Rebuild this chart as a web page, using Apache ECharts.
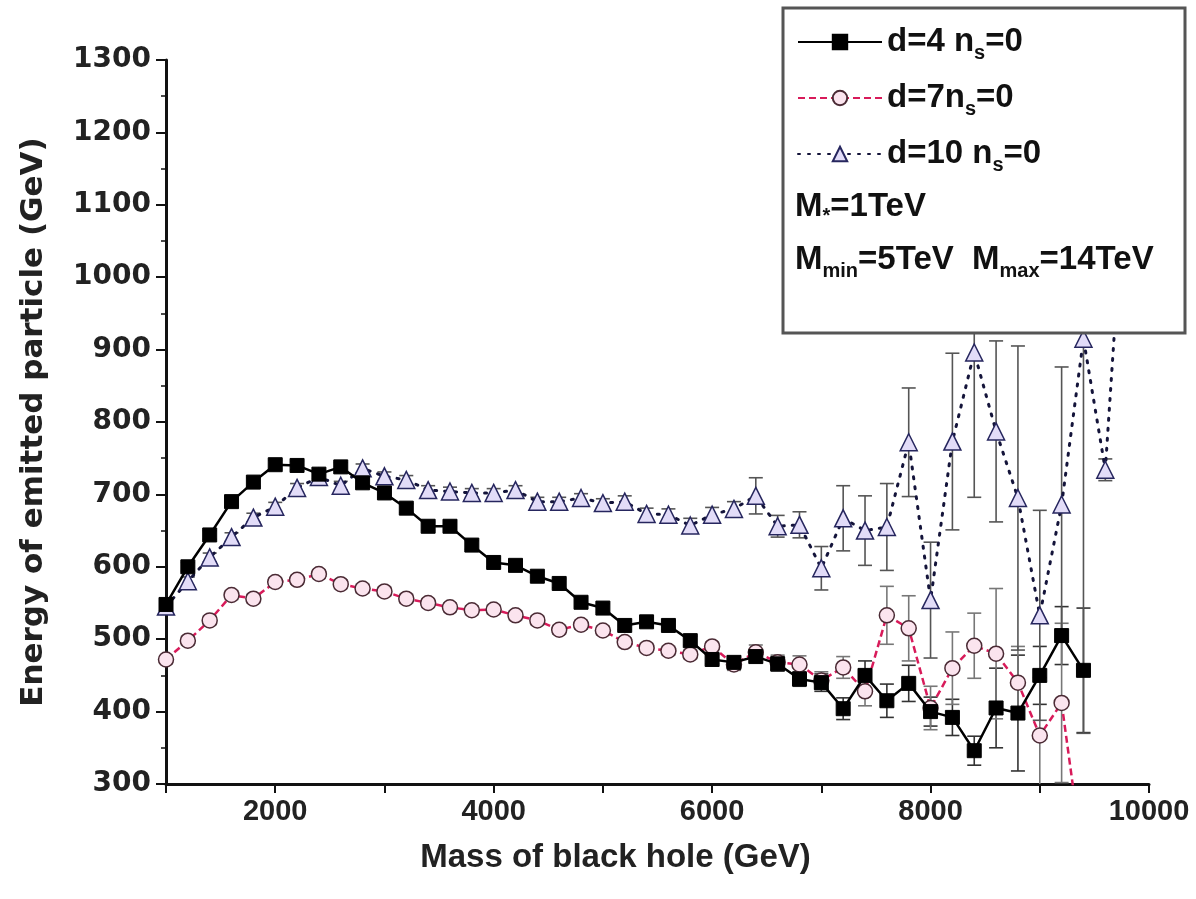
<!DOCTYPE html>
<html><head><meta charset="utf-8">
<script src="https://cdn.jsdelivr.net/npm/echarts@6/dist/echarts.min.js"></script>
<style>html,body{margin:0;padding:0;background:#fff}#c{width:1196px;height:899px}</style>
</head><body><div id="c"></div>
<script>
// ---- data ----
const massD4 = [1000,1200,1400,1600,1800,2000,2200,2400,2600,2800,3000,3200,3400,3600,3800,4000,4200,4400,4600,4800,5000,5200,5400,5600,5800,6000,6200,6400,6600,6800,7000,7200,7400,7600,7800,8000,8200,8400,8600,8800,9000,9200,9400];
const energyD4 = [548,600,644,690,717,741,740,728,738,716,702,681,656,656,630,606,602,587,577,551,543,519,524,519,498,472,468,476,466,445,440,404,450,415,439,400,392,346,405,398,450,505,457];
const errD4 = [6,6,6,6,6,6,6,6,6,6,6,6,6,6,6,6,6,6,6,6,6,6,6,6,6,6,8,8,10,10,12,15,20,23,25,20,25,20,55,80,40,40,86];

const massD7 = [1000,1200,1400,1600,1800,2000,2200,2400,2600,2800,3000,3200,3400,3600,3800,4000,4200,4400,4600,4800,5000,5200,5400,5600,5800,6000,6200,6400,6600,6800,7000,7200,7400,7600,7800,8000,8200,8400,8600,8800,9000,9200,9400];
const energyD7 = [472,498,526,561,556,579,582,590,576,570,566,556,550,544,540,541,533,526,513,520,512,496,488,484,479,490,465,482,468,465,443,461,428,533,515,405,460,491,480,440,367,412,190];
const errD7 = [6,6,6,6,6,6,6,6,6,6,6,6,6,6,6,6,6,6,6,6,6,6,6,6,6,6,8,10,10,12,12,15,20,40,45,30,50,45,90,50,80,110,0];

const massD10 = [1000,1200,1400,1600,1800,2000,2200,2400,2600,2800,3000,3200,3400,3600,3800,4000,4200,4400,4600,4800,5000,5200,5400,5600,5800,6000,6200,6400,6600,6800,7000,7200,7400,7600,7800,8000,8200,8400,8600,8800,9000,9200,9400,9600,9800];
const energyD10 = [545,580,613,641,668,683,709,724,712,736,725,720,706,704,702,702,706,690,690,695,688,690,673,672,657,672,680,698,656,658,598,667,650,655,772,554,773,896,787,695,533,686,915,734,1190];
const errD10 = [6,6,6,6,6,6,6,6,6,6,6,6,6,6,6,6,6,6,6,6,6,8,8,8,10,10,10,25,15,18,30,45,48,60,75,80,122,200,125,210,145,190,545,15,0];

const seriesNames = ['d4', 'd7', 'd10'];
const legendLabels = {
  d4: '{m|d=4 n}{s|s}{m|=0}',
  d7: '{m|d=7n}{s|s}{m|=0}',
  d10: '{m|d=10 n}{s|s}{m|=0}'
};
const xTickLabels = ['2000', '4000', '6000', '8000', '10000'];
const xTitle = 'Mass of black hole (GeV)';
const yTitle = 'Energy of emitted particle (GeV)';

// ---- helpers ----
const FONT = '"Liberation Sans", Arial, sans-serif';
const WIDE = '"DejaVu Sans", "Liberation Sans", Arial, sans-serif';

function pairs(xs, ys) { return xs.map((x, i) => [x, ys[i]]); }
function errData(xs, ys, es) {
  const out = [];
  xs.forEach((x, i) => { if (es[i] > 0) out.push([x, ys[i] - es[i], ys[i] + es[i]]); });
  return out;
}
function errSeries(xs, ys, es, color) {
  return {
    type: 'custom', silent: true, clip: true, z: 1,
    data: errData(xs, ys, es),
    encode: { x: 0, y: [1, 2] },
    renderItem: function (params, api) {
      const x = api.value(0);
      const p1 = api.coord([x, api.value(2)]);
      const p2 = api.coord([x, api.value(1)]);
      const w = 7;
      const st = { stroke: color, lineWidth: 1.6 };
      return {
        type: 'group',
        children: [
          { type: 'line', shape: { x1: p1[0], y1: p1[1], x2: p2[0], y2: p2[1] }, style: st },
          { type: 'line', shape: { x1: p1[0] - w, y1: p1[1], x2: p1[0] + w, y2: p1[1] }, style: st },
          { type: 'line', shape: { x1: p2[0] - w, y1: p2[1], x2: p2[0] + w, y2: p2[1] }, style: st }
        ]
      };
    }
  };
}

const chart = echarts.init(document.getElementById('c'), null, { renderer: 'canvas' });
chart.setOption({
  backgroundColor: '#ffffff',
  animation: false,
  grid: { left: 166, right: 47, top: 60, bottom: 115, containLabel: false },
  xAxis: {
    type: 'value', min: 1000, max: 10000, interval: 1000,
    name: xTitle, nameLocation: 'middle', nameGap: 57,
    nameTextStyle: { fontFamily: FONT, fontWeight: 'bold', fontSize: 33, color: '#222', padding: [0, 84, 0, 0] },
    axisLine: { show: true, onZero: false, lineStyle: { color: '#111', width: 3 } },
    axisTick: { show: true, inside: false, length: 9, lineStyle: { color: '#111', width: 2 } },
    axisLabel: {
      margin: 13, fontFamily: FONT, fontWeight: 'bold', fontSize: 29, color: '#222',
      formatter: function (v) { const s = String(v); return xTickLabels.indexOf(s) >= 0 ? s : ''; }
    },
    splitLine: { show: false }
  },
  yAxis: {
    type: 'value', min: 300, max: 1300, interval: 100,
    name: yTitle, nameLocation: 'middle', nameGap: 117,
    nameTextStyle: { fontFamily: WIDE, fontWeight: 'bold', fontSize: 31, color: '#222' },
    axisLine: { show: true, onZero: false, lineStyle: { color: '#111', width: 3 } },
    axisTick: { show: true, inside: false, length: 10, lineStyle: { color: '#111', width: 2 } },
    minorTick: { show: true, splitNumber: 2, length: 5, lineStyle: { color: '#111', width: 1.5 } },
    axisLabel: {
      margin: 15, fontFamily: WIDE, fontWeight: 'bold', fontSize: 28, color: '#222',
      formatter: function (v) { return String(v); }
    },
    splitLine: { show: false }
  },
  legend: {
    orient: 'vertical', left: 792, top: 16, z: 6,
    itemWidth: 84, itemHeight: 18, itemGap: 14,
    data: seriesNames,
    formatter: function (name) { return legendLabels[name]; },
    textStyle: {
      color: '#111',
      rich: {
        m: { fontFamily: FONT, fontWeight: 'bold', fontSize: 33, lineHeight: 38 },
        s: { fontFamily: FONT, fontWeight: 'bold', fontSize: 20, lineHeight: 20, padding: [22, 0, 0, 0] }
      }
    }
  },
  graphic: {
    elements: [
      { type: 'rect', z: 3, shape: { x: 783, y: 8, width: 402, height: 325 },
        style: { fill: '#ffffff', stroke: '#555', lineWidth: 3 } },
      { type: 'text', z: 7, left: 795, top: 190,
        style: {
          text: 'M{s|*}=1TeV', fill: '#111',
          font: 'bold 33px "Liberation Sans", Arial, sans-serif',
          rich: { s: { fontFamily: FONT, fontWeight: 'bold', fontSize: 20, padding: [20, 0, 0, 0] } }
        } },
      { type: 'text', z: 7, left: 795, top: 243,
        style: {
          text: 'M{s|min}=5TeV  M{s|max}=14TeV', fill: '#111',
          font: 'bold 33px "Liberation Sans", Arial, sans-serif',
          rich: { s: { fontFamily: FONT, fontWeight: 'bold', fontSize: 20, padding: [24, 0, 0, 0] } }
        } }
    ]
  },
  series: [
    errSeries(massD4, energyD4, errD4, '#333'),
    errSeries(massD7, energyD7, errD7, '#777'),
    errSeries(massD10, energyD10, errD10, '#555'),
    {
      name: 'd4', type: 'line', z: 4, clip: true,
      data: pairs(massD4, energyD4),
      symbol: 'rect', symbolSize: 14,
      lineStyle: { color: '#000', width: 2.5, type: 'solid' },
      itemStyle: { color: '#000', borderColor: '#000', borderWidth: 1 }
    },
    {
      name: 'd7', type: 'line', z: 3, clip: true,
      data: pairs(massD7, energyD7),
      symbol: 'circle', symbolSize: 15,
      lineStyle: { color: '#d81b5a', width: 2.5, type: [7, 4] },
      itemStyle: { color: '#fbe4ee', borderColor: '#4a2a34', borderWidth: 1.5 }
    },
    {
      name: 'd10', type: 'line', z: 2, clip: true,
      data: pairs(massD10, energyD10),
      symbol: 'triangle', symbolSize: 17,
      lineStyle: { color: '#14143a', width: 3, type: [2, 8], cap: 'round' },
      itemStyle: { color: '#e2dcf8', borderColor: '#26265e', borderWidth: 1.5 }
    }
  ]
});
</script>
</body></html>
